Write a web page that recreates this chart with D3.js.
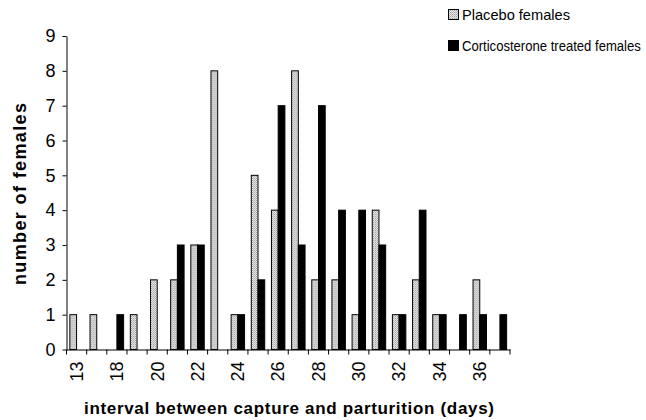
<!DOCTYPE html>
<html>
<head>
<meta charset="utf-8">
<script src="https://cdn.jsdelivr.net/npm/d3@7"></script>
<style>
  body { margin: 0; background: #fff; }
  svg { font-family: "Liberation Sans", Arial, sans-serif; }
</style>
</head>
<body>
<script>
// days (category 2 has no visible label in the original)
var days = ["13", "15", "18", "19", "20", "21", "22", "23", "24", "25", "26", "27",
            "28", "29", "30", "31", "32", "33", "34", "35", "36", "37"];
var placebo = [1, 1, 0, 1, 2, 2, 3, 8, 1, 5, 4, 8, 2, 2, 1, 4, 1, 2, 1, 0, 2, 0];
var cort    = [0, 0, 1, 0, 0, 3, 3, 0, 1, 2, 7, 3, 7, 4, 4, 3, 1, 4, 1, 1, 1, 1];
var seriesNames = ["Placebo females", "Corticosterone treated females"];
var yTicks = [0, 1, 2, 3, 4, 5, 6, 7, 8, 9];

var width = 646, height = 420;
var margin = {top: 36, right: 136, bottom: 70, left: 66.5};

const svg = d3.select("body")
    .append("svg")
    .attr("width", width)
    .attr("height", height);

// stipple pattern for the placebo bars
var defs = svg.append("defs");
var pat = defs.append("pattern")
    .attr("id", "stipple")
    .attr("patternUnits", "userSpaceOnUse")
    .attr("width", 2).attr("height", 2);
pat.append("rect").attr("width", 2).attr("height", 2).attr("fill", "#e8e8e8");
pat.append("rect").attr("width", 1).attr("height", 1).attr("fill", "#a0a0a0");
pat.append("rect").attr("x", 1).attr("y", 1).attr("width", 1).attr("height", 1).attr("fill", "#bcbcbc");

var fills = ["url(#stipple)", "#000"];

var xscale = d3.scaleBand()
    .domain(days)
    .range([margin.left, width - margin.right])
    .padding(0);

var inner = d3.scaleBand()
    .domain(seriesNames)
    .range([0, xscale.bandwidth()])
    .paddingInner(0)
    .paddingOuter(0.5);

var yscale = d3.scaleLinear()
    .domain([0, 9])
    .range([height - margin.bottom - 0.5, margin.top]);

var table = days.map((d, i) => ({day: d, values: [placebo[i], cort[i]]}));

// bars
var groups = svg.append("g")
    .selectAll("g")
    .data(table)
    .join("g")
    .attr("transform", d => `translate(${xscale(d.day)},0)`);

groups.selectAll("rect")
    .data(d => d.values.map((v, k) => ({name: seriesNames[k], v: v, k: k})))
    .join("rect")
    .filter(d => d.v > 0)
    .attr("x", d => inner(d.name))
    .attr("y", d => yscale(d.v))
    .attr("width", inner.bandwidth())
    .attr("height", d => yscale(0) - yscale(d.v))
    .attr("fill", d => fills[d.k])
    .attr("stroke", "#000")
    .attr("stroke-width", 1);

// y-axis
var yAxis = svg.append("g")
    .attr("transform", `translate(${margin.left},0)`)
    .call(d3.axisLeft(yscale).tickValues(yTicks).tickSize(4).tickPadding(7).tickSizeOuter(0));
yAxis.selectAll("text").attr("font-size", 18).attr("fill", "#000").attr("font-family", "Liberation Sans, Arial, sans-serif");
yAxis.selectAll("line, path").attr("stroke", "#000");

// x-axis: labels on every second category, ticks at category edges
var xAxis = svg.append("g")
    .attr("transform", `translate(0,${yscale(0)})`)
    .call(d3.axisBottom(xscale).tickSize(0).tickSizeOuter(0)
        .tickFormat((d, i) => i % 2 === 0 ? d : ""));
xAxis.select(".domain").attr("stroke", "#000");
xAxis.selectAll(".tick text")
    .attr("font-size", 18)
    .attr("fill", "#000")
    .attr("font-family", "Liberation Sans, Arial, sans-serif")
    .attr("transform", "rotate(-90)")
    .attr("text-anchor", "end")
    .attr("dy", "0.35em")
    .attr("x", -12)
    .attr("y", 0);

var edges = days.map(d => xscale(d)).concat([xscale.range()[1]]);
xAxis.selectAll(".edge")
    .data(edges)
    .join("line")
    .attr("class", "edge")
    .attr("x1", d => d).attr("x2", d => d)
    .attr("y1", 0).attr("y2", 5)
    .attr("stroke", "#000");

// axis titles
svg.append("text")
    .attr("transform", `translate(26,194) rotate(-90)`)
    .attr("text-anchor", "middle")
    .attr("font-size", 18)
    .attr("font-weight", "bold")
    .attr("textLength", 182)
    .attr("lengthAdjust", "spacing")
    .text("number of females");

svg.append("text")
    .attr("x", 289)
    .attr("y", 414)
    .attr("text-anchor", "middle")
    .attr("font-size", 17)
    .attr("font-weight", "bold")
    .attr("textLength", 410)
    .attr("lengthAdjust", "spacing")
    .text("interval between capture and parturition (days)");

// legend (text squeezed horizontally like the original)
var legendLen = [108, 179];
seriesNames.forEach((name, i) => {
    svg.append("rect")
        .attr("x", 448.5)
        .attr("y", 9.5 + 31 * i)
        .attr("width", 10)
        .attr("height", 10)
        .attr("fill", fills[i])
        .attr("stroke", "#000");
    var g = svg.append("g");
    var t = g.append("text")
        .attr("x", 0)
        .attr("y", 0)
        .attr("font-size", 15)
        .text(name);
    var sx = legendLen[i] / t.node().getComputedTextLength();
    g.attr("transform", `translate(462,${20 + 31 * i}) scale(${sx},1)`);
});
</script>
</body>
</html>
